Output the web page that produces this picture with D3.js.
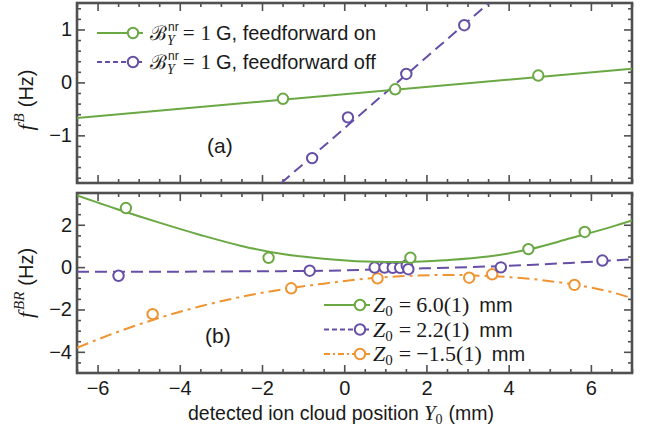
<!DOCTYPE html>
<html>
<head>
<meta charset="utf-8">
<script src="https://cdn.jsdelivr.net/npm/d3@7"></script>
<style>
body { margin: 0; background: #fff; }
svg { display: block; }
</style>
</head>
<body>
<svg id="chart" width="646" height="434"></svg>
<script>
// ---- data ----
var xTicks = [-6, -4, -2, 0, 2, 4, 6];
var yTicksA = [-1, 0, 1];
var yTicksB = [-4, -2, 0, 2];

// panel (a): measured points
var onX = [-1.49, 1.24, 4.72];
var onY = [-0.31, -0.13, 0.13];
var offX = [-0.78, 0.09, 1.51, 2.92];
var offY = [-1.43, -0.66, 0.16, 1.08];
// panel (a): fitted lines (visible end points)
var onLineX = [-6.5, 7];
var onLineY = [-0.67, 0.26];
var offLineX = [-1.53, 3.52];
var offLineY = [-1.9, 1.5];

// panel (b): measured points
var z60X = [-5.31, -1.84, 1.61, 4.48, 5.85];
var z60Y = [2.79, 0.44, 0.44, 0.85, 1.66];
var z22X = [-5.49, -0.84, 0.74, 0.98, 1.18, 1.36, 1.52, 1.56, 3.81, 6.28];
var z22Y = [-0.41, -0.17, -0.02, -0.02, -0.03, -0.03, 0.08, -0.1, -0.01, 0.31];
var z15X = [-4.66, -1.29, 0.81, 3.04, 3.6, 5.6];
var z15Y = [-2.22, -1.0, -0.53, -0.5, -0.34, -0.84];
// panel (b): fitted curves, read at these positions
var fitX = [-6.5, -5.5, -4.5, -3.5, -2.5, -1.5, -0.5, 0.5, 1.5, 2.5, 3.5, 4.5, 5.5, 6.5, 7];
var fit60 = [3.38, 2.72, 2.1, 1.52, 1.0, 0.62, 0.4, 0.27, 0.24, 0.33, 0.5, 0.84, 1.36, 1.9, 2.2];
var fit22 = [-0.22, -0.22, -0.22, -0.21, -0.2, -0.19, -0.17, -0.13, -0.08, -0.03, 0.03, 0.1, 0.2, 0.31, 0.37];
var fit15 = [-3.81, -3.05, -2.4, -1.85, -1.4, -1.05, -0.78, -0.55, -0.42, -0.37, -0.42, -0.55, -0.8, -1.18, -1.47];

// ---- layout ----
var LEFT = 77, RIGHT = 632;
var GREEN = "#6aa843", PURPLE = "#664ea6", ORANGE = "#ef9431", FRAME = "#505050", INK = "#1a1a1a";
var SANS = "'Liberation Sans', Arial, sans-serif";
var SERIF = "'Liberation Serif', 'Times New Roman', serif";

var svg = d3.select("#chart");

var x = d3.scaleLinear().domain([-6.5, 7]).range([LEFT, RIGHT]);
var yA = d3.scaleLinear().domain([-1.9, 1.5]).range([183, 3]);
var yB = d3.scaleLinear().domain([-5, 3.5]).range([373, 193]);

function zip(xs, ys) {
    return xs.map(function(v, i) { return [v, ys[i]]; });
}

// one text element, pieces placed one after the other as tspans
function rich(parent, parts) {
    var g = parent.append("g");
    var text = g.append("text").attr("fill", INK);
    var cx = 0, stackW = 0;
    parts.forEach(function(p) {
        var t = text.append("tspan")
            .attr("x", cx + (p.dx || 0))
            .attr("y", p.dy || 0)
            .attr("font-family", p.font || SANS)
            .attr("font-style", p.it ? "italic" : "normal")
            .attr("font-size", p.size || 20)
            .text(p.t);
        var w = t.node().getComputedTextLength() + (p.dx || 0);
        if (p.stack) {
            stackW = Math.max(stackW, w);
        } else {
            cx += Math.max(w, stackW);
            stackW = 0;
        }
    });
    return { g: g, width: cx };
}

function panel(y, top, bottom, yMajor, yMinor, clipId, showX) {
    var g = svg.append("g");

    svg.append("clipPath").attr("id", clipId)
        .append("rect")
        .attr("x", LEFT).attr("y", top)
        .attr("width", RIGHT - LEFT).attr("height", bottom - top);

    var xMinor = d3.range(-6.5, 7.01, 0.5).filter(function(v) { return xTicks.indexOf(v) < 0; });

    function axis(a, vals, size, labels) {
        return a.tickValues(vals).tickSize(-size).tickPadding(labels ? labels : 3)
            .tickFormat(labels ? d3.format("") : "");
    }
    var sets = [
        [d3.axisBottom(x), xTicks, 8, showX ? 8 : 0, "translate(0," + bottom + ")"],
        [d3.axisBottom(x), xMinor, 4, 0, "translate(0," + bottom + ")"],
        [d3.axisTop(x), xTicks, 8, 0, "translate(0," + top + ")"],
        [d3.axisTop(x), xMinor, 4, 0, "translate(0," + top + ")"],
        [d3.axisLeft(y), yMajor, 8, 5, "translate(" + LEFT + ",0)"],
        [d3.axisLeft(y), yMinor, 4, 0, "translate(" + LEFT + ",0)"],
        [d3.axisRight(y), yMajor, 8, 0, "translate(" + RIGHT + ",0)"],
        [d3.axisRight(y), yMinor, 4, 0, "translate(" + RIGHT + ",0)"]
    ];
    sets.forEach(function(s) {
        var ax = g.append("g")
            .attr("transform", s[4])
            .call(axis(s[0], s[1], s[2], s[3]));
        ax.select(".domain").remove();
        ax.selectAll("line").attr("stroke", FRAME).attr("stroke-width", 1.6);
        ax.selectAll("text")
            .attr("font-family", SANS)
            .attr("font-size", 20)
            .attr("fill", INK);
    });

    g.append("rect")
        .attr("x", LEFT).attr("y", top)
        .attr("width", RIGHT - LEFT).attr("height", bottom - top)
        .attr("fill", "none")
        .attr("stroke", FRAME)
        .attr("stroke-width", 2.6);

    return svg.append("g").attr("clip-path", "url(#" + clipId + ")");
}

function drawSeries(layer, y, lineData, pts, color, dash, curve) {
    var line = d3.line()
        .x(function(d) { return x(d[0]); })
        .y(function(d) { return y(d[1]); })
        .curve(curve || d3.curveLinear);
    layer.append("path")
        .datum(lineData)
        .attr("d", line)
        .attr("fill", "none")
        .attr("stroke", color)
        .attr("stroke-width", 2)
        .attr("stroke-dasharray", dash);
    layer.selectAll(null)
        .data(pts)
        .enter()
        .append("circle")
        .attr("cx", function(d) { return x(d[0]); })
        .attr("cy", function(d) { return y(d[1]); })
        .attr("r", 5.2)
        .attr("fill", "#fff")
        .attr("stroke", color)
        .attr("stroke-width", 2);
}

// ---- panel (a) ----
var layerA = panel(yA, 3, 183, yTicksA, d3.range(-1.8, 1.41, 0.2).filter(function(v) {
    return Math.abs(v - Math.round(v)) > 0.01;
}), "clipA", false);
drawSeries(layerA, yA, zip(offLineX, offLineY), zip(offX, offY), PURPLE, "11,6");
drawSeries(layerA, yA, zip(onLineX, onLineY), zip(onX, onY), GREEN, null);

// ---- panel (b) ----
var layerB = panel(yB, 193, 373, yTicksB, d3.range(-4.5, 3.01, 0.5).filter(function(v) {
    return v % 2 !== 0;
}), "clipB", true);
drawSeries(layerB, yB, zip(fitX, fit15), zip(z15X, z15Y), ORANGE, "12,5,3,5", d3.curveMonotoneX);
drawSeries(layerB, yB, zip(fitX, fit22), zip(z22X, z22Y), PURPLE, "12,6", d3.curveMonotoneX);
drawSeries(layerB, yB, zip(fitX, fit60), zip(z60X, z60Y), GREEN, null, d3.curveMonotoneX);

// ---- legends ----
function legendKey(cxStart, cy, color, dash) {
    svg.append("line")
        .attr("x1", cxStart).attr("x2", cxStart + 46)
        .attr("y1", cy).attr("y2", cy)
        .attr("stroke", color).attr("stroke-width", 2)
        .attr("stroke-dasharray", dash);
    svg.append("circle")
        .attr("cx", cxStart + 36).attr("cy", cy).attr("r", 5.2)
        .attr("fill", "#fff").attr("stroke", color).attr("stroke-width", 2);
}

var legA = [
    { color: GREEN, dash: null, text: "G, feedforward on" },
    { color: PURPLE, dash: "5,3", text: "G, feedforward off" }
];
legA.forEach(function(d, i) {
    var cy = 33 + i * 29;
    legendKey(97, cy, d.color, d.dash);
    var r = rich(svg, [
        { t: "\u212C", font: "'DejaVu Serif', serif", size: 20 },
        { t: "nr", size: 12, dy: -9, dx: 1, stack: true },
        { t: "Y", font: SERIF, it: true, size: 14, dy: 5, dx: 0 },
        { t: "=", font: SERIF, size: 21, dx: 4 },
        { t: "1", font: SERIF, size: 21, dx: 6 },
        { t: d.text, size: 20, dx: 5 }
    ]);
    r.g.attr("transform", "translate(150," + (cy + 7) + ")");
});

var legB = [
    { color: GREEN, dash: null, val: "6.0(1)" },
    { color: PURPLE, dash: "5,3", val: "2.2(1)" },
    { color: ORANGE, dash: "6,3,2,3", val: "\u22121.5(1)" }
];
legB.forEach(function(d, i) {
    var cy = 305 + i * 24.5;
    legendKey(324, cy, d.color, d.dash);
    var r = rich(svg, [
        { t: "Z", font: SERIF, it: true, size: 22 },
        { t: "0", font: SERIF, size: 15, dy: 4 },
        { t: "=", font: SERIF, size: 22, dx: 6 },
        { t: d.val, font: SERIF, size: 22, dx: 5 },
        { t: "mm", size: 20, dx: 10 }
    ]);
    r.g.attr("transform", "translate(373," + (cy + 7) + ")");
});

// ---- panel labels ----
svg.append("text").attr("x", 207).attr("y", 153)
    .attr("font-family", SANS).attr("font-size", 21).attr("fill", INK).text("(a)");
svg.append("text").attr("x", 205).attr("y", 343)
    .attr("font-family", SANS).attr("font-size", 21).attr("fill", INK).text("(b)");

// ---- axis titles ----
function yTitle(cy, sup) {
    var g = svg.append("g");
    var r = rich(g, [
        { t: "f", font: SERIF, it: true, size: 22 },
        { t: sup, font: SERIF, it: true, size: 15, dy: -9, dx: 2 },
        { t: "(Hz)", size: 20, dx: 6 }
    ]);
    r.g.attr("transform", "translate(" + (-r.width / 2) + ",0)");
    g.attr("transform", "translate(33," + cy + ") rotate(-90)");
}
yTitle(100, "B");
yTitle(283, "BR");

var xt = rich(svg, [
    { t: "detected ion cloud position", size: 19.5 },
    { t: "Y", font: SERIF, it: true, size: 21, dx: 5 },
    { t: "0", font: SERIF, size: 14, dy: 4 },
    { t: "(mm)", size: 19.5, dx: 6 }
]);
xt.g.attr("transform", "translate(188,420)");
</script>
</body>
</html>
